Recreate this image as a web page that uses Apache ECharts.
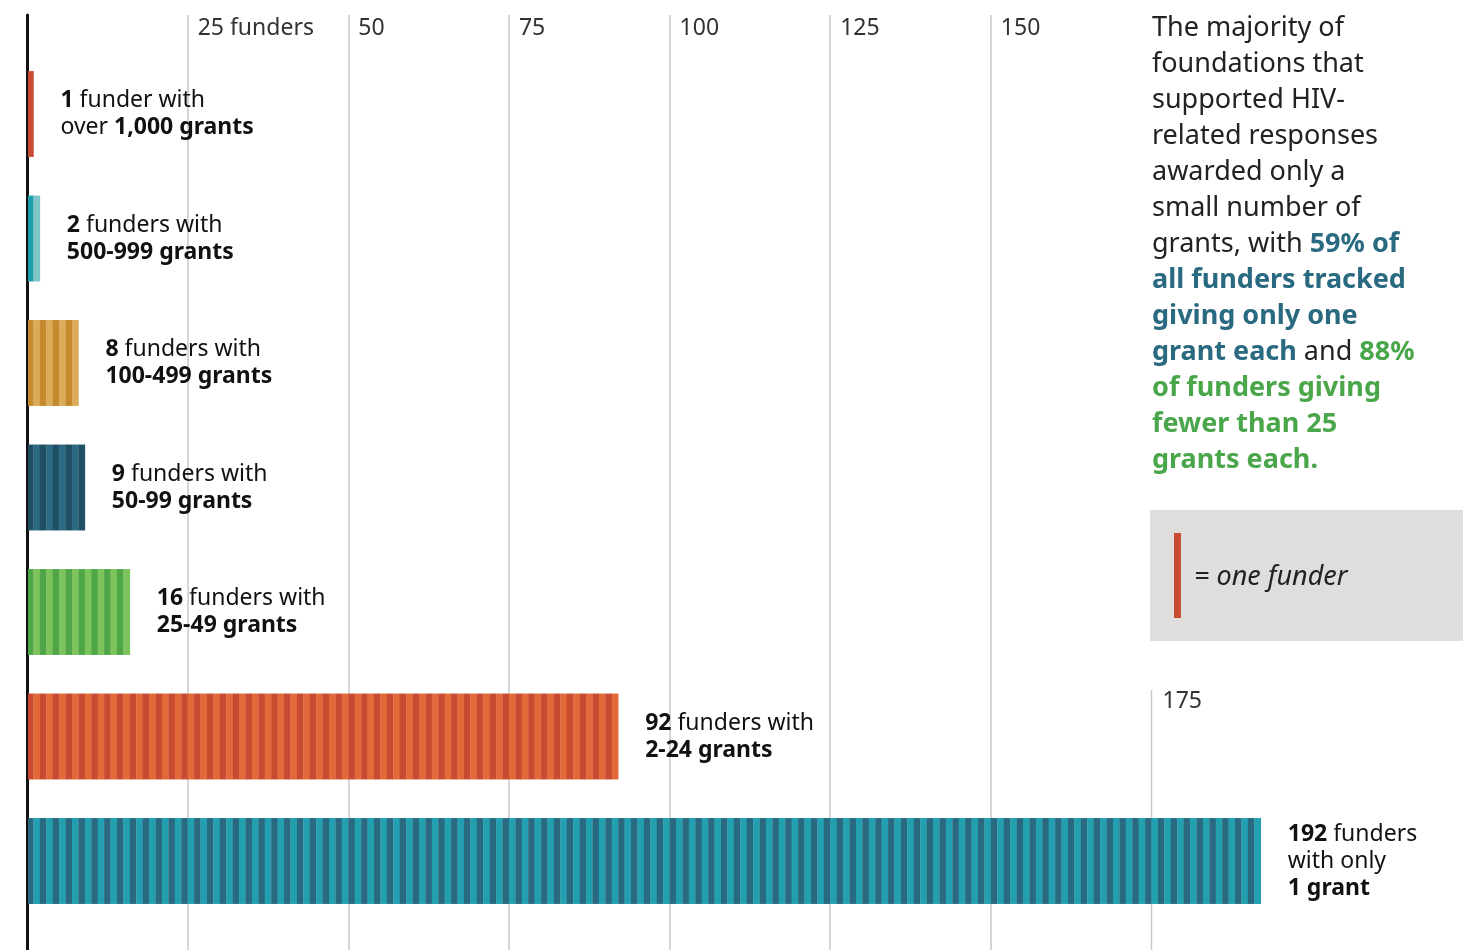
<!DOCTYPE html>
<html>
<head>
<meta charset="utf-8">
<script src="https://cdn.jsdelivr.net/npm/echarts@6/dist/echarts.min.js"></script>
<style>
html,body{margin:0;padding:0;background:#fff;}
#chart{width:1463px;height:950px;}
</style>
</head>
<body>
<div id="chart"></div>
<script>
// ---- data ----
const categories = ['over 1,000 grants', '500-999 grants', '100-499 grants', '50-99 grants', '25-49 grants', '2-24 grants', '1 grant'];
const funders = [1, 2, 8, 9, 16, 92, 192];
const labelTexts = [
  '{b|1} funder with\nover {b|1,000 grants}',
  '{b|2} funders with\n{b|500-999 grants}',
  '{b|8} funders with\n{b|100-499 grants}',
  '{b|9} funders with\n{b|50-99 grants}',
  '{b|16} funders with\n{b|25-49 grants}',
  '{b|92} funders with\n{b|2-24 grants}',
  '{b|192} funders\nwith only\n{b|1 grant}'
];
const stripeA = ['#c84b31', '#1f9fae', '#c48a2d', '#1f4f63', '#4ea648', '#c84b31', '#2a6a80'];
const stripeB = ['#c84b31', '#7fc4c6', '#dbab5a', '#2b6a80', '#7bc35a', '#e4693a', '#22a0b0'];
const tickValues = [0, 25, 50, 75, 100, 125, 150, 175];
const tickLabels = ['', '25 funders', '50', '75', '100', '125', '150', ''];

const FONT = '"Noto Sans", sans-serif';
const chart = echarts.init(document.getElementById('chart'));

const seriesData = funders.map((v, i) => [v, i]);

const option = {
  animation: false,
  grid: [
    {left: 27, right: 311.5, top: 15, bottom: 0},
    {left: 27, right: 311.5, top: 51.75, bottom: 26.75}
  ],
  xAxis: [
    {
      gridIndex: 0, type: 'value', position: 'top', min: 0, max: 175, interval: 25,
      axisLine: {show: false}, axisTick: {show: false},
      splitLine: {show: true, showMinLine: false, showMaxLine: false, lineStyle: {color: '#c9c9c9', width: 1.5}},
      axisLabel: {
        inside: true, margin: 0, align: 'left', verticalAlign: 'top', padding: [2, 0, 0, 10],
        fontFamily: FONT, fontSize: 23, color: '#333',
        formatter: v => tickLabels[tickValues.indexOf(v)] || ''
      }
    },
    {gridIndex: 1, type: 'value', min: 0, max: 175, show: false}
  ],
  yAxis: [
    {
      gridIndex: 0, type: 'value', min: 0, max: 1,
      axisLine: {show: true, lineStyle: {color: '#111', width: 3}},
      axisTick: {show: false}, axisLabel: {show: false}, splitLine: {show: false}
    },
    {
      gridIndex: 1, type: 'category', inverse: true, data: categories,
      axisLine: {show: false}, axisTick: {show: false}, axisLabel: {show: false}, splitLine: {show: false}
    }
  ],
  series: [{
    type: 'custom',
    xAxisIndex: 1, yAxisIndex: 1,
    clip: false,
    data: seriesData,
    renderItem: function (params, api) {
      const n = api.value(0);
      const cat = api.value(1);
      const h = api.size([0, 1])[1] * 0.69;
      const cy = api.coord([0, cat])[1];
      const children = [];
      for (let i = 0; i < n; i++) {
        const x0 = api.coord([i, cat])[0];
        const x1 = api.coord([i + 1, cat])[0];
        children.push({
          type: 'rect',
          shape: {x: x0 + (i === 0 ? 1 : 0), y: cy - h / 2, width: x1 - x0 - (i === 0 ? 1 : 0) + 0.3, height: h},
          style: {fill: i % 2 === 0 ? stripeA[cat] : stripeB[cat]}
        });
      }
      const xe = api.coord([n, cat])[0];
      children.push({
        type: 'text',
        style: {
          text: labelTexts[cat],
          x: xe + 27, y: cy,
          verticalAlign: 'middle', align: 'left',
          fontFamily: FONT, fontSize: 23, lineHeight: 27, fill: '#111',
          rich: {b: {fontWeight: 'bold', fontFamily: FONT, fontSize: 23, lineHeight: 27, fill: '#111'}}
        }
      });
      return {type: 'group', children: children};
    }
  }]
};
chart.setOption(option);

const x175 = chart.convertToPixel({xAxisIndex: 0}, 175);
const xOne = chart.convertToPixel({xAxisIndex: 0}, 1) - chart.convertToPixel({xAxisIndex: 0}, 0);

chart.setOption({
  graphic: [
    {type: 'line', shape: {x1: x175, y1: 690, x2: x175, y2: 950}, style: {stroke: '#c9c9c9', lineWidth: 1.5}},
    {type: 'text', x: x175 + 11, y: 701, style: {text: '175', fontFamily: FONT, fontSize: 23, fill: '#333', verticalAlign: 'middle'}},
    {
      type: 'text', x: 1152, y: 10,
      style: {
        text: 'The majority of\nfoundations that\nsupported HIV-\nrelated responses\nawarded only a\nsmall number of\ngrants, with {bl|59% of}\n{bl|all funders tracked}\n{bl|giving only one}\n{bl|grant each} and {gr|88%}\n{gr|of funders giving}\n{gr|fewer than 25}\n{gr|grants each.}',
        fontFamily: FONT, fontSize: 27, lineHeight: 36, fill: '#222',
        rich: {
          bl: {fontFamily: FONT, fontSize: 27, lineHeight: 36, fontWeight: 'bold', fill: '#2a6a80'},
          gr: {fontFamily: FONT, fontSize: 27, lineHeight: 36, fontWeight: 'bold', fill: '#4aa64a'}
        }
      }
    },
    {type: 'rect', shape: {x: 1150, y: 510, width: 313, height: 131}, style: {fill: '#dfdedc'}},
    {type: 'rect', shape: {x: 1174, y: 533, width: xOne + 0.5, height: 85}, style: {fill: '#c84b31'}},
    {type: 'text', x: 1194, y: 577, style: {text: '= one funder', fontFamily: FONT, fontSize: 27, fontStyle: 'italic', fill: '#222', verticalAlign: 'middle'}}
  ]
});
</script>
</body>
</html>
